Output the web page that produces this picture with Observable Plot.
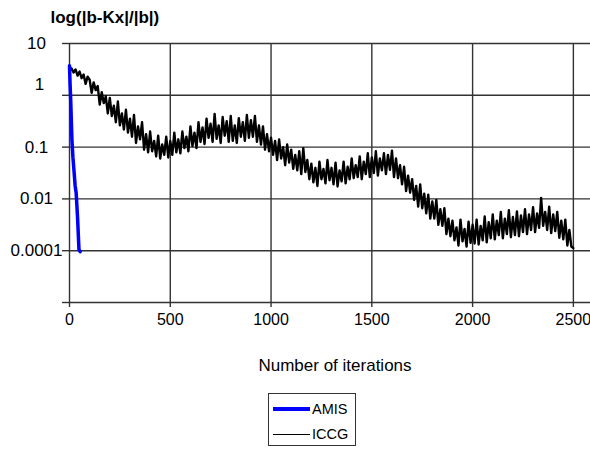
<!DOCTYPE html>
<html><head><meta charset="utf-8">
<script src="https://cdn.jsdelivr.net/npm/d3@7"></script>
<script src="https://cdn.jsdelivr.net/npm/@observablehq/plot@0.6"></script>
<style>
body{margin:0;background:#fff;font-family:"Liberation Sans",Arial,sans-serif;}
#wrap{position:relative;width:590px;height:449px;overflow:hidden;background:#fff;}
#legend{position:absolute;left:268px;top:393px;width:86px;height:51px;border:1px solid #333;font-size:14.5px;color:#000;background:#fff;}
.row{position:absolute;left:4px;height:16px;display:flex;align-items:center;}
.sw{width:37px;margin-right:2px;}
</style>
</head><body>
<div id="wrap"><div id="chart"></div><div id="legend"></div></div>
<script>
// ---- data ----
const yTitle = "log(|b-Kx|/|b|)";
const xTitle = "Number of iterations";
const xTickValues = [0, 500, 1000, 1500, 2000, 2500];
const yTickValues = [10, 1, 0.1, 0.01, 0.001, 0.0001];
const yTickLabels = ["10", "1", "0.1", "0.01", "0.0001", ""];

const seriesNames = ["AMIS", "ICCG"];
const seriesColors = ["#0000ff", "#000000"];

// AMIS: iteration and log10 residual
const amisIter = [0, 3, 6, 12, 17, 22, 28, 33, 40, 47, 53];
const amisLog  = [0.57, 0.20, -0.09, -0.86, -1.20, -1.44, -1.75, -1.88, -2.36, -2.98, -3.02];

// ICCG: log10 residual every 10 iterations, 0..2500
const iccgStep = 10;
const iccgLog = [
 0.47, 0.52, 0.44, 0.50, 0.38, 0.46, 0.33, 0.40, 0.22, 0.36,
 0.30, 0.05, 0.25, 0.10, 0.18, -0.18, 0.06, -0.15, -0.02, -0.35,
 -0.05, -0.40, -0.20, -0.52, -0.12, -0.58, -0.35, -0.66, -0.28, -0.72,
 -0.45, -0.80, -0.38, -0.92, -0.60, -0.85, -0.52, -1.05, -0.75, -1.10,
 -0.70, -1.08, -0.88, -1.18, -0.78, -1.22, -0.95, -1.15, -0.80, -1.20,
 -0.88, -1.15, -0.72, -1.10, -0.85, -1.12, -0.70, -1.02, -0.80, -1.08,
 -0.60, -0.98, -0.72, -1.02, -0.52, -0.90, -0.62, -0.94, -0.45, -0.82,
 -0.55, -0.90, -0.36, -0.84, -0.58, -0.92, -0.42, -0.78, -0.50, -0.90,
 -0.40, -0.88, -0.58, -0.92, -0.44, -0.80, -0.52, -0.88, -0.38, -0.82,
 -0.48, -0.80, -0.40, -0.90, -0.58, -0.95, -0.60, -1.05, -0.75, -1.08,
 -0.82, -1.15, -0.88, -1.25, -0.85, -1.22, -1.00, -1.35, -0.95, -1.30,
 -1.05, -1.42, -1.15, -1.45, -1.08, -1.52, -1.02, -1.48, -1.25, -1.62,
 -1.32, -1.68, -1.40, -1.75, -1.28, -1.62, -1.42, -1.70, -1.25, -1.64,
 -1.40, -1.72, -1.30, -1.76, -1.45, -1.66, -1.28, -1.70, -1.38, -1.62,
 -1.22, -1.60, -1.35, -1.58, -1.18, -1.62, -1.28, -1.52, -1.12, -1.58,
 -1.20, -1.50, -1.08, -1.55, -1.22, -1.45, -1.12, -1.52, -1.15, -1.44,
 -1.07, -1.58, -1.22, -1.60, -1.35, -1.72, -1.38, -1.85, -1.55, -1.88,
 -1.62, -2.02, -1.75, -2.15, -1.72, -2.18, -1.90, -2.28, -1.92, -2.38,
 -2.05, -2.38, -2.02, -2.50, -2.20, -2.52, -2.18, -2.68, -2.38, -2.72,
 -2.42, -2.80, -2.55, -2.90, -2.40, -2.82, -2.58, -2.92, -2.44, -2.85,
 -2.50, -2.86, -2.40, -2.88, -2.52, -2.80, -2.34, -2.84, -2.45, -2.76,
 -2.30, -2.78, -2.42, -2.70, -2.25, -2.76, -2.38, -2.68, -2.22, -2.74,
 -2.35, -2.70, -2.24, -2.72, -2.32, -2.64, -2.20, -2.68, -2.30, -2.60,
 -2.16, -2.64, -2.28, -2.56, -1.98, -2.52, -2.25, -2.60, -2.15, -2.66,
 -2.30, -2.62, -2.25, -2.75, -2.42, -2.78, -2.40, -2.90, -2.60, -2.92,
 -2.95
];

// ---- tables for the library ----
const amis = amisIter.map((it, i) => ({iter: it, value: 10 ** amisLog[i]}));
const iccg = iccgLog.map((v, i) => ({iter: i * iccgStep, value: 10 ** v}));
const yLabels = yTickValues.map((v, i) => ({v, label: yTickLabels[i]}));

const font = '"Liberation Sans", Arial, sans-serif';
const gridColor = "#333";

const chart = Plot.plot({
  width: 590,
  height: 385,
  marginLeft: 69,
  marginRight: 0,
  marginTop: 43,
  marginBottom: 83,
  style: {fontFamily: font, fontSize: "17px", color: "#000", background: "#fff", overflow: "visible"},
  x: {domain: [0, 2585]},
  y: {type: "log", domain: [0.0001, 10]},
  marks: [
    Plot.gridX(xTickValues, {stroke: gridColor, strokeOpacity: 1, strokeWidth: 1.4}),
    Plot.gridY(yTickValues, {stroke: gridColor, strokeOpacity: 1, strokeWidth: 1.4}),
    Plot.axisX({ticks: xTickValues, tickSize: 5, tickPadding: 6, label: null, fontSize: 16, tickFormat: d => String(d), stroke: gridColor, strokeWidth: 1.4}),
    Plot.axisY({ticks: yTickValues, tickSize: 7, label: null, tickFormat: () => "", stroke: gridColor, strokeWidth: 1.4}),
    Plot.text(yLabels.filter(d => d.label !== "1"), {frameAnchor: "left", y: "v", text: "label", dx: -33, textAnchor: "middle", lineAnchor: "middle", fontSize: 17}),
    Plot.text(yLabels.filter(d => d.label === "1"), {frameAnchor: "left", y: "v", text: "label", dx: -30, dy: -11, textAnchor: "middle", lineAnchor: "middle", fontSize: 17}),
    Plot.lineY(iccg, {x: "iter", y: "value", stroke: seriesColors[1], strokeWidth: 2.4, strokeLinejoin: "round"}),
    Plot.line(amis, {x: "iter", y: "value", stroke: seriesColors[0], strokeWidth: 3.5}),
    Plot.text([xTitle], {frameAnchor: "bottom", text: d => d, dx: 5, dy: 63, lineAnchor: "middle", fontSize: 17}),
    Plot.text([yTitle], {frameAnchor: "top-left", text: d => d, dx: -19, dy: -26, textAnchor: "start", lineAnchor: "middle", fontSize: 17, fontWeight: "bold"})
  ]
});
document.getElementById("chart").appendChild(chart);

// legend
const legend = document.getElementById("legend");
seriesNames.forEach((name, i) => {
  const row = document.createElement("div");
  row.className = "row";
  row.style.top = (i === 0 ? 7 : 32) + "px";
  const sw = document.createElement("div");
  sw.className = "sw";
  sw.style.borderTop = (i === 0 ? 4 : 1) + "px solid " + seriesColors[i];
  const lab = document.createElement("span");
  lab.textContent = name;
  row.appendChild(sw);
  row.appendChild(lab);
  legend.appendChild(row);
});
</script>
</body></html>
